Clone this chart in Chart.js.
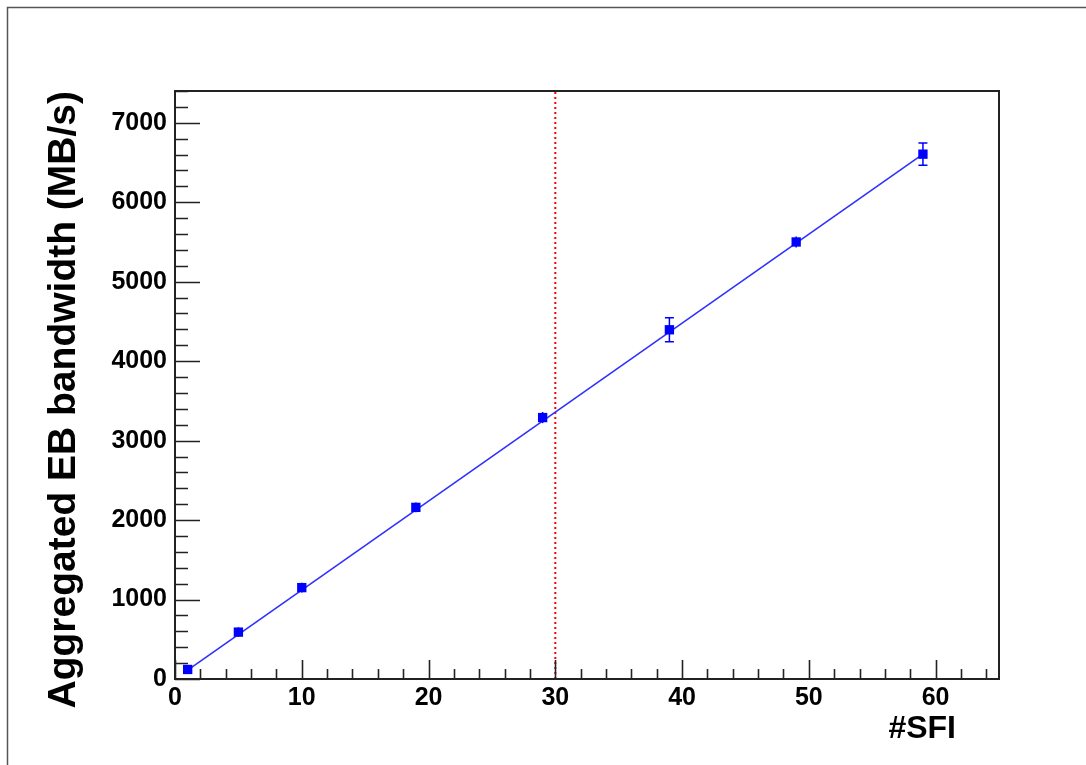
<!DOCTYPE html>
<html><head><meta charset="utf-8">
<script src="https://cdn.jsdelivr.net/npm/chart.js@4"></script>
<style>html,body{margin:0;padding:0;background:#fff}#wrap{width:1086px;height:765px;position:relative}</style>
</head><body><div id="wrap"><canvas id="c" width="1086" height="765"></canvas></div>
<script>
// ---- data ----
const sfi = [1, 5, 10, 19, 29, 39, 49, 59];
const bandwidth = [120, 590, 1150, 2160, 3290, 4395, 5500, 6605];
const bandwidthErr = [40, 60, 60, 60, 70, 150, 70, 140];
const fitX = [1, 59];
const fitY = [112, 6605];
const cutX = [30, 30];
const cutY = [0, 7400];
const xTicks = [0, 10, 20, 30, 40, 50, 60];
const yTicks = [0, 1000, 2000, 3000, 4000, 5000, 6000, 7000];
const xTitle = '#SFI';
const yTitle = 'Aggregated EB bandwidth (MB/s)';

const FONT = '"Liberation Sans", Arial, Helvetica, sans-serif';

const rootStyle = {
  id: 'rootStyle',
  beforeDraw(chart) {
    const ctx = chart.ctx;
    ctx.save();
    ctx.fillStyle = '#fff';
    ctx.fillRect(0, 0, chart.width, chart.height);
    // canvas border (partially visible)
    ctx.strokeStyle = '#555';
    ctx.lineWidth = 1.5;
    ctx.beginPath();
    ctx.moveTo(7.5, chart.height);
    ctx.lineTo(7.5, 7.5);
    ctx.lineTo(chart.width, 7.5);
    ctx.stroke();
    ctx.restore();
  },
  beforeDatasetsDraw(chart) {
    // error bars
    const ctx = chart.ctx, xs = chart.scales.x, ys = chart.scales.y;
    ctx.save();
    ctx.strokeStyle = '#0000ff';
    ctx.lineWidth = 1.5;
    sfi.forEach((v, i) => {
      const px = xs.getPixelForValue(v);
      const y1 = ys.getPixelForValue(bandwidth[i] + bandwidthErr[i]);
      const y2 = ys.getPixelForValue(bandwidth[i] - bandwidthErr[i]);
      ctx.beginPath();
      ctx.moveTo(px, y1); ctx.lineTo(px, y2);
      if (Math.abs(y2 - y1) / 2 > 8) {
        ctx.moveTo(px - 4.5, y1); ctx.lineTo(px + 4.5, y1);
        ctx.moveTo(px - 4.5, y2); ctx.lineTo(px + 4.5, y2);
      }
      ctx.stroke();
    });
    ctx.restore();
  },
  afterDraw(chart) {
    const ctx = chart.ctx, a = chart.chartArea, xs = chart.scales.x, ys = chart.scales.y;
    ctx.save();
    // frame
    ctx.strokeStyle = '#222';
    ctx.lineWidth = 2;
    ctx.strokeRect(a.left, a.top, a.right - a.left, a.bottom - a.top);
    // inner ticks
    ctx.lineWidth = 1.6;
    ctx.beginPath();
    for (let v = 0; v <= xs.max; v += 2) {
      const px = Math.round(xs.getPixelForValue(v)) + 0.5;
      const len = (v % 10 === 0) ? 19 : 10;
      ctx.moveTo(px, a.bottom); ctx.lineTo(px, a.bottom - len);
    }
    for (let v = 0; v <= ys.max; v += 200) {
      const py = Math.round(ys.getPixelForValue(v)) + 0.5;
      const len = (v % 1000 === 0) ? 25 : 13;
      ctx.moveTo(a.left, py); ctx.lineTo(a.left + len, py);
    }
    ctx.stroke();
    // x title
    ctx.fillStyle = '#000';
    ctx.font = 'bold 32px ' + FONT;
    ctx.textAlign = 'right';
    ctx.textBaseline = 'alphabetic';
    ctx.fillText(xTitle, a.right - 43, 738);
    ctx.restore();
  }
};

new Chart(document.getElementById('c'), {
  type: 'scatter',
  data: {
    datasets: [
      {
        label: 'data',
        data: sfi.map((x, i) => ({ x, y: bandwidth[i] })),
        pointStyle: 'rect',
        pointRadius: 6.6,
        pointHoverRadius: 6.6,
        backgroundColor: '#0000ff',
        borderColor: '#0000ff',
        borderWidth: 0,
        showLine: false,
        order: 0
      },
      {
        label: 'fit',
        type: 'line',
        data: fitX.map((x, i) => ({ x, y: fitY[i] })),
        borderColor: '#3030ff',
        borderWidth: 1.6,
        pointRadius: 0,
        fill: false,
        order: 1
      },
      {
        label: 'cut',
        type: 'line',
        data: cutX.map((x, i) => ({ x, y: cutY[i] })),
        borderColor: '#ff0000',
        borderWidth: 2,
        borderDash: [2, 3],
        pointRadius: 0,
        fill: false,
        order: 2
      }
    ]
  },
  options: {
    responsive: false,
    animation: false,
    devicePixelRatio: 1,
    layout: { padding: { left: 41, top: 91, right: 87, bottom: 0 } },
    plugins: { legend: { display: false }, tooltip: { enabled: false } },
    scales: {
      x: {
        type: 'linear', min: 0, max: 65,
        grid: { display: false, drawTicks: false },
        border: { display: false },
        afterBuildTicks: s => { s.ticks = xTicks.map(v => ({ value: v })); },
        afterFit: s => { s.height = 86; },
        ticks: {
          padding: 4, color: '#000', maxRotation: 0,
          callback: v => String(v),
          font: { family: FONT, size: 25, weight: 'bold' }
        }
      },
      y: {
        type: 'linear', min: 0, max: 7400,
        grid: { display: false, drawTicks: false },
        border: { display: false },
        afterBuildTicks: s => { s.ticks = yTicks.map(v => ({ value: v })); },
        afterFit: s => { s.width = 134; },
        ticks: {
          padding: 8, color: '#000',
          callback: v => String(v),
          font: { family: FONT, size: 25, weight: 'bold' }
        },
        title: {
          display: true, text: yTitle, align: 'end', color: '#000',
          padding: 0,
          font: { family: FONT, size: 39, weight: 'bold', lineHeight: 1.2 }
        }
      }
    }
  },
  plugins: [rootStyle]
});
</script>
</body></html>
